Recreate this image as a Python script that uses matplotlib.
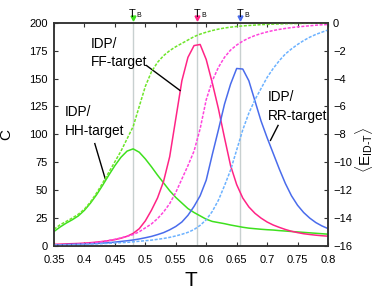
import numpy as np
import matplotlib
matplotlib.use("Agg")
import matplotlib.pyplot as plt
import matplotlib.transforms as mtransforms
from matplotlib import font_manager

plt.rcParams["font.family"] = ["Liberation Sans", "DejaVu Sans"]
plt.rcParams["mathtext.fontset"] = "custom"
plt.rcParams["mathtext.rm"] = "Liberation Sans"
plt.rcParams["mathtext.it"] = "Liberation Sans"

# the labels inside the plot use a narrow face if there is one
installed = {f.name for f in font_manager.fontManager.ttflist}
if "Liberation Sans Narrow" in installed:
    ann_family, ann_size = "Liberation Sans Narrow", 11.5
else:
    ann_family, ann_size = "Liberation Sans", 9.8

# temperature grid
T = [0.35, 0.36, 0.37, 0.38, 0.39, 0.40, 0.41, 0.42, 0.43, 0.44,
     0.45, 0.46, 0.47, 0.48, 0.49, 0.50, 0.51, 0.52, 0.53, 0.54,
     0.55, 0.56, 0.57, 0.58, 0.59, 0.60, 0.61, 0.62, 0.63, 0.64,
     0.65, 0.66, 0.67, 0.68, 0.69, 0.70, 0.71, 0.72, 0.73, 0.74,
     0.75, 0.76, 0.77, 0.78, 0.79, 0.80]

# heat capacity C (left axis)
C_HH = [13, 17, 20.5, 23.5, 27, 32, 38.5, 46, 54.5, 63.5,
        72, 79.5, 85, 87, 84, 78, 71, 63.5, 56.5, 49.5,
        43.5, 38.5, 33.5, 30, 27, 24, 22, 21, 20, 18.8,
        17.8, 16.8, 16, 15.5, 15, 14.6, 14.3, 13.8, 13.4, 13,
        12.6, 12.2, 11.8, 11.4, 11, 10.6]
C_FF = [1.5, 1.7, 1.9, 2.1, 2.3, 2.6, 3.0, 3.5, 4.1, 4.8,
        5.7, 7.0, 8.7, 11.3, 15.5, 22.5, 32, 43, 58, 80,
        114, 148, 169, 179.5, 180.5, 167, 146, 123, 97, 72,
        55, 43, 35, 29.3, 25, 21.5, 18.8, 16.7, 14.8, 13.2,
        12.0, 11.0, 10.3, 9.7, 9.2, 8.8]
C_RR = [1.0, 1.1, 1.3, 1.5, 1.7, 1.9, 2.1, 2.3, 2.6, 3.0,
        3.5, 4.1, 4.7, 5.4, 6.3, 7.4, 8.6, 10.2, 12.0, 14.5,
        17.5, 21.5, 27.5, 35.5, 45, 59, 82, 104, 127, 145,
        159, 158.5, 148, 130, 112, 97, 83, 69, 56, 45,
        36.5, 30, 25, 21, 18, 15.6]

# energy <E_ID-T> (right axis)
E_HH = [-14.80, -14.48, -14.24, -14.00, -13.72, -13.36, -12.84, -12.20, -11.48, -10.72,
        -9.96, -9.20, -8.32, -7.44, -6.00, -4.56, -3.52, -2.84, -2.36, -2.00,
        -1.72, -1.48, -1.24, -1.00, -0.82, -0.68, -0.56, -0.46, -0.38, -0.32,
        -0.27, -0.23, -0.20, -0.17, -0.14, -0.12, -0.10, -0.09, -0.07, -0.06,
        -0.06, -0.05, -0.04, -0.03, -0.03, -0.02]
E_FF = [-15.94, -15.93, -15.91, -15.90, -15.87, -15.84, -15.80, -15.74, -15.68, -15.60,
        -15.52, -15.42, -15.31, -15.18, -14.98, -14.70, -14.42, -14.04, -13.56, -12.96,
        -12.16, -11.20, -10.24, -9.20, -7.60, -5.52, -4.16, -3.20, -2.48, -1.96,
        -1.60, -1.32, -1.10, -0.92, -0.78, -0.66, -0.56, -0.48, -0.41, -0.35,
        -0.30, -0.26, -0.22, -0.18, -0.15, -0.13]
E_RR = [-15.94, -15.93, -15.92, -15.91, -15.90, -15.88, -15.86, -15.85, -15.83, -15.81,
        -15.78, -15.76, -15.74, -15.70, -15.66, -15.62, -15.58, -15.52, -15.46, -15.38,
        -15.28, -15.16, -15.02, -14.82, -14.52, -14.12, -13.52, -12.72, -11.68, -10.56,
        -9.12, -7.68, -6.48, -5.52, -4.72, -3.92, -3.28, -2.72, -2.24, -1.88,
        -1.56, -1.28, -1.04, -0.84, -0.68, -0.52]

# transition temperatures
TB = [0.479, 0.585, 0.655]

green = "#3ee01e"
green_d = "#6ee52a"
pink = "#ff2486"
pink_d = "#ff44dd"
blue = "#4a6cec"
blue_d = "#6cb2ff"
dots = (0, (2, 1))

fig = plt.figure(figsize=(3.74, 2.96), dpi=100)
ax = fig.add_axes([0.1444, 0.1689, 0.7326, 0.7544])
ax2 = ax.twinx()

for t in TB:
    ax.axvline(t, color="#c8d0d0", lw=1.0, zorder=0)

ax.plot(T, C_HH, color=green, lw=1.1)
ax.plot(T, C_FF, color=pink, lw=1.1)
ax.plot(T, C_RR, color=blue, lw=1.1)
ax2.plot(T, E_HH, color=green_d, lw=1.1, ls=dots)
ax2.plot(T, E_FF, color=pink_d, lw=1.1, ls=dots)
ax2.plot(T, E_RR, color=blue_d, lw=1.1, ls=dots)

ax.set_xlim(0.35, 0.8)
ax.set_ylim(0, 200)
ax2.set_ylim(-16, 0)
ax.set_xticks(np.arange(0.35, 0.801, 0.05))
ax.set_xticklabels(["0.35", "0.4", "0.45", "0.5", "0.55", "0.6", "0.65", "0.7", "0.75", "0.8"])
ax.set_yticks(range(0, 201, 25))
ax2.set_yticks(range(-16, 1, 2))

ax.tick_params(axis="x", direction="in", top=True, length=3, width=0.8,
               labelsize=8, pad=6.5, color="#333333")
ax.tick_params(axis="y", direction="in", length=3, width=0.8,
               labelsize=8, pad=4.7, color="#333333")
ax2.tick_params(axis="y", direction="in", length=3, width=0.8,
                labelsize=8, pad=3.6, color="#333333")
for a in (ax, ax2):
    for s in a.spines.values():
        s.set_linewidth(1.1)
        s.set_color("#333333")

ax.set_xlabel("T", fontsize=15, labelpad=4)
ax.set_ylabel("C", fontsize=11, rotation=90)
ax.yaxis.set_label_coords(-0.147, 0.5)
ax2.set_ylabel(r"$\langle \mathrm{E}_{\mathrm{ID\text{-}T}} \rangle$", fontsize=11, rotation=90)
ax2.yaxis.set_label_coords(1.093, 0.43)

# T_B markers above the frame
trans = mtransforms.blended_transform_factory(ax.transData, ax.transAxes)
for t, c in zip(TB, [green, pink, blue]):
    ax.plot([t], [1.019], marker="v", ms=3.5, color=c, mec=c, transform=trans, clip_on=False)
    ax.text(t, 1.027, "T", transform=trans, ha="center", va="baseline", fontsize=8)
    ax.annotate("B", xy=(t, 1.027), xycoords=trans, xytext=(3, -0.5),
                textcoords="offset points", ha="left", va="baseline", fontsize=5)

# annotations
ax.text(0.410, 187.3, "IDP/\nFF-target", family=ann_family, fontsize=ann_size,
        va="top", ha="left", linespacing=1.4)
ax.plot([0.502, 0.557], [161.6, 139.3], color="black", lw=1.0)
ax.text(0.368, 125.9, "IDP/\nHH-target", family=ann_family, fontsize=ann_size,
        va="top", ha="left", linespacing=1.4)
ax.plot([0.417, 0.434], [91.7, 60.4], color="black", lw=1.0)
ax.text(0.701, 139.6, "IDP/\nRR-target", family=ann_family, fontsize=ann_size,
        va="top", ha="left", linespacing=1.4)
ax.plot([0.718, 0.7055], [108, 94.6], color="black", lw=1.0)

fig.savefig("out.png", dpi=100)
